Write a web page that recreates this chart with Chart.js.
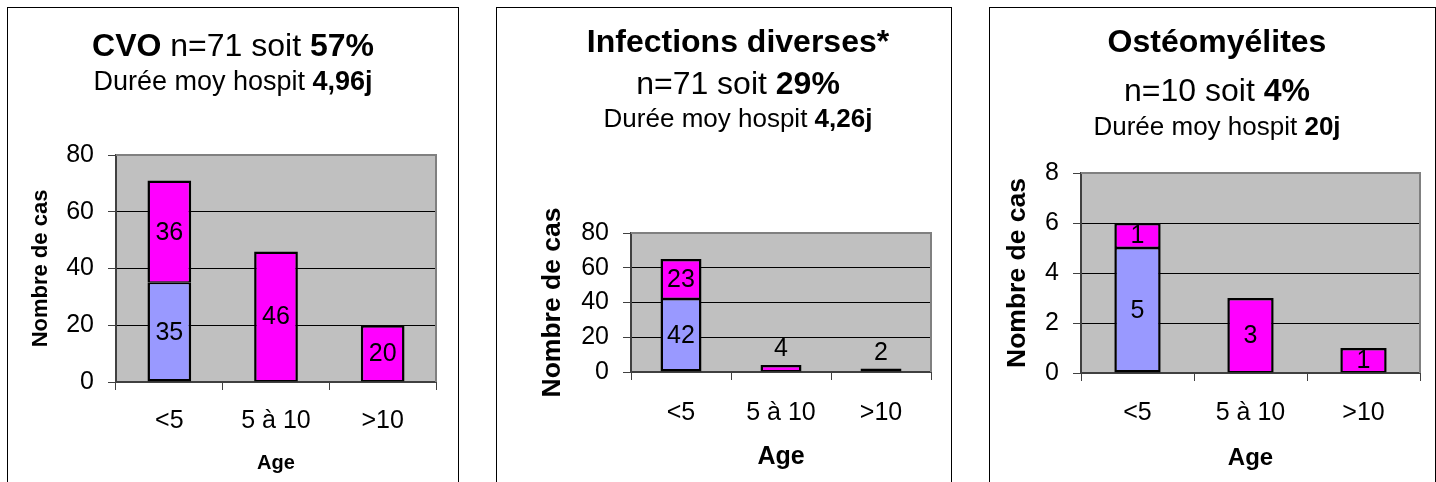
<!DOCTYPE html>
<html lang="fr">
<head>
  <meta charset="UTF-8" />
  <title>Répartition par âge</title>
  <script src="https://cdn.jsdelivr.net/npm/chart.js"></script>
  <style>
    body {
      margin: 0;
      width: 1436px;
      height: 482px;
      overflow: hidden;
      position: relative;
      background: #fff;
      font-family: 'Liberation Sans', Arial, sans-serif;
    }

    .panel {
      position: absolute;
      top: 7px;
      height: 500px;
      border: 1px solid #000;
      background: #fff;
    }

    .panel canvas {
      display: block;
    }
  </style>
</head>
<body>
  <div class="panel" style="left:7px;width:450px"><canvas id="cvo" width="450" height="474"></canvas></div>
  <div class="panel" style="left:496px;width:454px"><canvas id="infections" width="454" height="474"></canvas></div>
  <div class="panel" style="left:989px;width:445px"><canvas id="osteo" width="445" height="474"></canvas></div>

  <script>
    // tranches d'age
    const ages = ['<5', '5 à 10', '>10'];

    // CVO
    const cvoBleu = [35, 0, 0];
    const cvoRose = [36, 46, 20];
    const cvoTicks = { max: 80, step: 20 };

    // Infections diverses
    const infBleu = [42, 0, 0];
    const infRose = [23, 4, 2];
    const infTicks = { max: 80, step: 20 };

    // Ostéomyélites
    const osteoBleu = [5, 0, 0];
    const osteoRose = [1, 3, 1];
    const osteoTicks = { max: 8, step: 2 };

    const FONT = '"Liberation Sans", Arial, sans-serif';
    Chart.defaults.font.family = FONT;
    Chart.defaults.color = '#000';

    // draws a centred line made of bold / normal pieces
    function drawRich(ctx, parts, cx, cy, size) {
      let w = 0;
      parts.forEach(p => {
        ctx.font = (p[1] ? 'bold ' : '') + size + 'px ' + FONT;
        w += ctx.measureText(p[0]).width;
      });
      let x = cx - w / 2;
      ctx.textAlign = 'left';
      ctx.textBaseline = 'middle';
      parts.forEach(p => {
        ctx.font = (p[1] ? 'bold ' : '') + size + 'px ' + FONT;
        ctx.fillText(p[0], x, cy);
        x += ctx.measureText(p[0]).width;
      });
    }

    function makeDecor(p) {
      return {
        id: 'decor',
        beforeDraw(chart) {
          const a = chart.chartArea, ctx = chart.ctx;
          ctx.save();
          ctx.fillStyle = '#C0C0C0';
          ctx.fillRect(a.left, a.top, a.right - a.left, a.bottom - a.top);
          ctx.restore();
        },
        beforeDatasetsDraw(chart) {
          const a = chart.chartArea, ctx = chart.ctx;
          ctx.save();
          ctx.strokeStyle = '#808080';
          ctx.lineWidth = 2;
          ctx.beginPath();
          ctx.moveTo(a.left, a.top);
          ctx.lineTo(a.right, a.top);
          ctx.lineTo(a.right, a.bottom);
          ctx.stroke();
          ctx.restore();
        },
        afterDatasetsDraw(chart) {
          const ctx = chart.ctx;
          ctx.save();
          ctx.font = '25px ' + FONT;
          ctx.fillStyle = '#000';
          ctx.textAlign = 'center';
          chart.data.datasets.forEach((ds, i) => {
            chart.getDatasetMeta(i).data.forEach((bar, j) => {
              const v = ds.data[j];
              if (!v) return;
              const h = bar.base - bar.y;
              if (h >= 24) {
                ctx.textBaseline = 'middle';
                ctx.fillText(String(v), bar.x, (bar.y + bar.base) / 2 + 1);
              } else {
                ctx.textBaseline = 'bottom';
                ctx.fillText(String(v), bar.x, bar.y - 3);
              }
            });
          });
          ctx.restore();
        },
        afterDraw(chart) {
          const a = chart.chartArea, ctx = chart.ctx;
          ctx.save();
          ctx.fillStyle = '#000';
          p.titles.forEach(t => drawRich(ctx, t.parts, p.cx, t.y, t.size));

          ctx.font = 'bold ' + p.xTitle.size + 'px ' + FONT;
          ctx.textAlign = 'center';
          ctx.textBaseline = 'middle';
          ctx.fillText('Age', (a.left + a.right) / 2, p.xTitle.y);

          ctx.translate(p.yTitle.x, (a.top + a.bottom) / 2);
          ctx.rotate(-Math.PI / 2);
          ctx.font = 'bold ' + p.yTitle.size + 'px ' + FONT;
          ctx.fillText('Nombre de cas', 0, 0);
          ctx.restore();
        }
      };
    }

    function makeChart(id, bleu, rose, yt, p) {
      const canvas = document.getElementById(id);
      const W = canvas.width, H = canvas.height;
      new Chart(canvas, {
        type: 'bar',
        data: {
          labels: ages,
          datasets: [
            {
              data: bleu,
              backgroundColor: '#9999FF',
              borderColor: '#000',
              borderWidth: { top: 1.5, left: 2.5, right: 2.5, bottom: 2.5 },
              borderSkipped: false
            },
            {
              data: rose,
              backgroundColor: '#FF00FF',
              borderColor: '#000',
              borderWidth: { top: 2.5, left: 2.5, right: 2.5, bottom: 1.5 },
              borderSkipped: false
            }
          ]
        },
        options: {
          responsive: false,
          animation: false,
          layout: { padding: { left: 0, top: p.area.top, right: W - p.area.right, bottom: 0 } },
          datasets: { bar: { categoryPercentage: 1, barPercentage: 0.41 } },
          plugins: { legend: { display: false }, tooltip: { enabled: false } },
          scales: {
            x: {
              stacked: true,
              grid: { offset: true, drawOnChartArea: false, tickLength: 8, color: '#404040', tickColor: '#404040' },
              border: { color: '#404040', width: 2 },
              ticks: { font: { size: 25 }, padding: p.xPad, color: '#000' },
              afterFit: s => { s.height = H - p.area.bottom; }
            },
            y: {
              stacked: true,
              min: 0,
              max: yt.max,
              ticks: { stepSize: yt.step, font: { size: 25 }, padding: 14, color: '#000' },
              grid: {
                color: c => (c.tick && c.tick.value === yt.max) ? 'rgba(0,0,0,0)' : '#000',
                tickColor: '#404040',
                tickLength: 8
              },
              border: { color: '#404040', width: 2 },
              afterFit: s => { s.width = p.area.left; }
            }
          }
        },
        plugins: [makeDecor(p)]
      });
    }

    makeChart('cvo', cvoBleu, cvoRose, cvoTicks, {
      area: { left: 108, right: 428, top: 147, bottom: 374 },
      cx: 225,
      titles: [
        { parts: [['CVO', 1], [' n=71 soit ', 0], ['57%', 1]], y: 39, size: 32 },
        { parts: [['Durée moy hospit ', 0], ['4,96j', 1]], y: 75, size: 27 }
      ],
      xTitle: { y: 455, size: 20 },
      yTitle: { x: 33, size: 22 },
      xPad: 16
    });

    makeChart('infections', infBleu, infRose, infTicks, {
      area: { left: 134, right: 434, top: 225, bottom: 364 },
      cx: 241,
      titles: [
        { parts: [['Infections diverses*', 1]], y: 35, size: 32 },
        { parts: [['n=71 soit ', 0], ['29%', 1]], y: 77, size: 32 },
        { parts: [['Durée moy hospit ', 0], ['4,26j', 1]], y: 112, size: 26 }
      ],
      xTitle: { y: 449, size: 25 },
      yTitle: { x: 56, size: 26.5 },
      xPad: 18
    });

    makeChart('osteo', osteoBleu, osteoRose, osteoTicks, {
      area: { left: 91, right: 430, top: 165, bottom: 365 },
      cx: 227,
      titles: [
        { parts: [['Ostéomyélites', 1]], y: 35, size: 32 },
        { parts: [['n=10 soit ', 0], ['4%', 1]], y: 84, size: 32 },
        { parts: [['Durée moy hospit ', 0], ['20j', 1]], y: 120, size: 26 }
      ],
      xTitle: { y: 450, size: 24 },
      yTitle: { x: 28, size: 26.5 },
      xPad: 17
    });
  </script>
</body>
</html>
